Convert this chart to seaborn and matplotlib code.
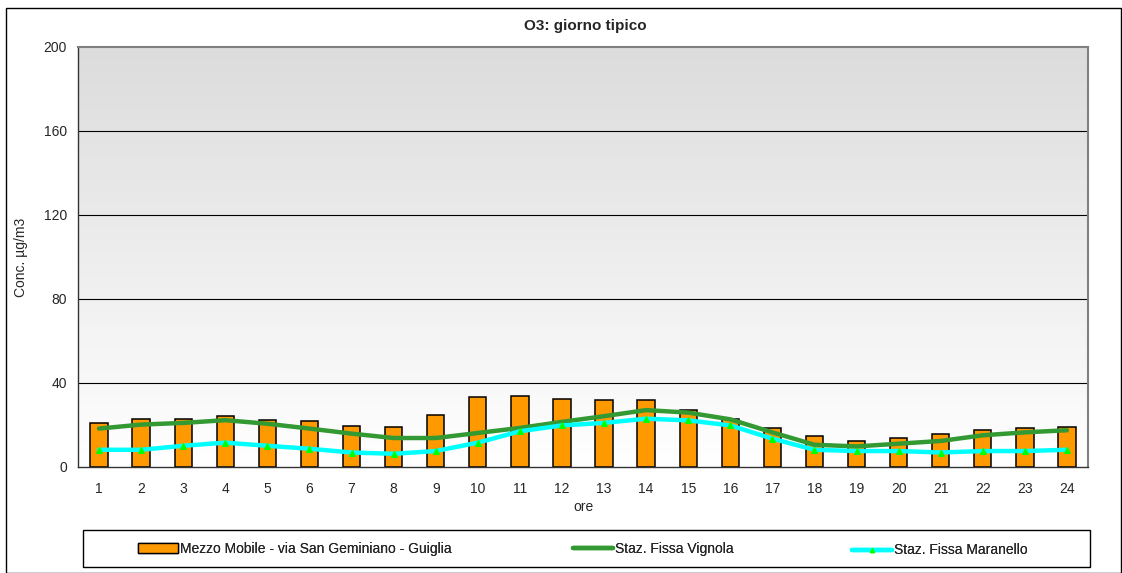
import numpy as np
import matplotlib
matplotlib.use("Agg")
import matplotlib.pyplot as plt
import matplotlib.patches as patches
from matplotlib.lines import Line2D
import seaborn as sns

# Data (O3, typical day)
hours = list(range(1, 25))
mezzo_mobile = [21.0, 23.0, 23.0, 24.4, 22.3, 21.7, 19.6, 18.9, 25.0, 33.1, 33.9, 32.4,
                31.8, 31.8, 27.0, 23.0, 18.5, 14.9, 12.4, 13.6, 15.7, 17.5, 18.5, 19.1]
vignola = [18.3, 20.2, 21.0, 22.3, 20.6, 18.3, 15.9, 13.8, 13.8, 16.2, 18.6, 21.5,
           24.2, 27.1, 25.9, 22.7, 16.5, 10.6, 9.8, 11.1, 12.4, 15.1, 16.5, 17.5]
maranello = [8.2, 8.2, 10.1, 11.6, 10.1, 8.7, 6.9, 6.3, 7.6, 11.6, 17.0, 19.8,
             21.0, 23.0, 22.2, 19.8, 13.5, 8.2, 7.6, 7.6, 6.9, 7.6, 7.6, 8.2]
y_ticks = [0, 40, 80, 120, 160, 200]

labels = ["Mezzo Mobile - via San Geminiano - Guiglia",
          "Staz. Fissa Vignola",
          "Staz. Fissa Maranello"]

sns.set_style("white")
plt.rcParams['font.family'] = ['Liberation Sans', 'DejaVu Sans']
plt.rcParams['font.size'] = 10

W, H = 1122, 573
fig = plt.figure(figsize=(W / 100, H / 100), dpi=100)
ax = fig.add_axes([78 / W, 1 - 467 / H, (1088 - 78) / W, (467 - 47) / H])

# grey-to-white gradient of the plot area
grad = np.linspace(1.0, 0.0, 256).reshape(-1, 1)
cmap = matplotlib.colors.LinearSegmentedColormap.from_list("bg", ["#ffffff", "#dcdcdc"])
ax.imshow(grad, extent=[-0.5, len(hours) - 0.5, 0, 200], aspect="auto",
          cmap=cmap, zorder=0, origin="upper")

for t in y_ticks[1:-1]:
    ax.axhline(t, color="black", linewidth=0.8, zorder=1)

pos = np.arange(len(hours))
sns.barplot(x=hours, y=mezzo_mobile, color="#FF9900", saturation=1, width=0.41,
            edgecolor="black", linewidth=1.1, ax=ax, zorder=2)
sns.lineplot(x=pos, y=vignola, color="#339933", linewidth=3.2, ax=ax, zorder=3,
             solid_joinstyle="round", solid_capstyle="round")
sns.lineplot(x=pos, y=maranello, color="#00FFFF", linewidth=3.2, ax=ax, zorder=4,
             marker="^", markersize=4, markerfacecolor="#00FF00",
             markeredgecolor="#00FF00", solid_joinstyle="round")

ax.set_xlim(-0.5, len(hours) - 0.5)
ax.set_ylim(0, 200)
ax.set_yticks(y_ticks)
ax.set_xticks(pos)
ax.set_xticklabels([str(h) for h in hours])
ax.set_xticks(np.arange(-0.5, len(hours)), minor=True)
ax.tick_params(axis="x", which="major", length=0, pad=11, labelsize=10)
ax.tick_params(axis="x", which="minor", length=4, width=1, color="#333333", direction="out")
ax.tick_params(axis="y", length=5, width=1, color="#333333", direction="out", labelsize=10, pad=3)
ax.set_xlabel("ore", fontsize=10, labelpad=3)
ax.set_ylabel("Conc. µg/m3", fontsize=10, labelpad=11)

for side in ["top", "right"]:
    ax.spines[side].set_color("#808080")
    ax.spines[side].set_linewidth(1.5)
for side in ["left", "bottom"]:
    ax.spines[side].set_color("#333333")
    ax.spines[side].set_linewidth(1)
    ax.spines[side].set_visible(True)

fig.text(585 / W, 1 - 26 / H, "O3: giorno tipico", ha="center", va="center",
         fontsize=11, fontweight="bold")

# outer chart frame and legend box
fig.add_artist(patches.Rectangle((6 / W, 0.5 / H), (1121 - 6) / W, (565 - 0.5) / H,
                                 transform=fig.transFigure, fill=False,
                                 edgecolor="black", linewidth=1))
fig.add_artist(patches.Rectangle((83 / W, 1 - 567 / H), (1090 - 83) / W, (567 - 530) / H,
                                 transform=fig.transFigure, fill=False,
                                 edgecolor="black", linewidth=1))

handles = [patches.Patch(facecolor="#FF9900", edgecolor="black", linewidth=1),
           Line2D([], [], color="#339933", linewidth=3.2),
           Line2D([], [], color="#00FFFF", linewidth=3.2, marker="^", markersize=3,
                  markerfacecolor="#00FF00", markeredgecolor="#00FF00")]

# one legend per entry so the entries sit where they do in the original
# (the last label has no descenders, so it is nudged down to share the baseline)
legend_x = [138, 573, 852]
legend_y = [548.5, 548.5, 550.5]
for h, lab, lx, ly in zip(handles, labels, legend_x, legend_y):
    leg = fig.legend([h], [lab], loc="center left", bbox_to_anchor=(lx / W, 1 - ly / H),
                     frameon=False, fontsize=10, handlelength=2.9, handleheight=0.7,
                     handletextpad=0.15, borderpad=0, borderaxespad=0)
    fig.add_artist(leg)

fig.savefig("out.png", dpi=100)
